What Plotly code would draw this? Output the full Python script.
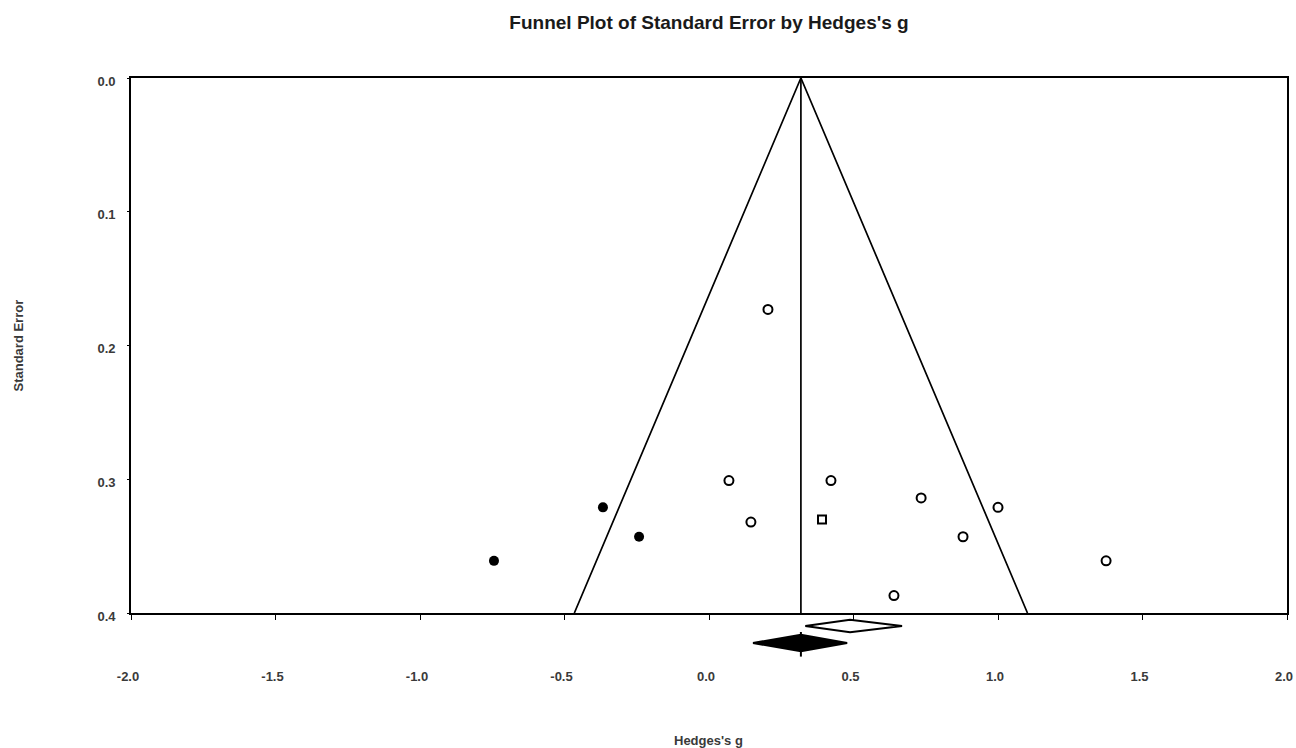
import plotly.graph_objects as go

# ---- data ----
observed_g = [0.204, 0.069, 0.422, 0.734, 1.000, 0.145, 0.879, 1.374, 0.640]
observed_se = [0.173, 0.301, 0.301, 0.314, 0.321, 0.332, 0.343, 0.361, 0.387]
square_g = [0.391]
square_se = [0.330]
imputed_g = [-0.367, -0.242, -0.744]
imputed_se = [0.321, 0.343, 0.361]

center_g = 0.318
se_max = 0.4
z = 1.96

# summary diamonds: (centre, low, high, row position, half height)
obs_diamond = dict(center=0.488, low=0.333, high=0.668, y=0.4097, h=0.0047)
imp_diamond = dict(center=0.318, low=0.152, high=0.478, y=0.4224, h=0.0062)

x_ticks = [-2.0, -1.5, -1.0, -0.5, 0.0, 0.5, 1.0, 1.5, 2.0]
y_ticks = [0.0, 0.1, 0.2, 0.3, 0.4]

font_family = "Liberation Sans, Arial, sans-serif"
text_color = "#3a3a3a"

fig = go.Figure()

# funnel
fig.add_trace(go.Scatter(
    x=[center_g - z * se_max, center_g, center_g + z * se_max],
    y=[se_max, 0, se_max],
    mode="lines", line=dict(color="black", width=1.7),
    hoverinfo="skip", showlegend=False))
# center line
fig.add_trace(go.Scatter(
    x=[center_g, center_g], y=[0, se_max],
    mode="lines", line=dict(color="black", width=1.7),
    hoverinfo="skip", showlegend=False))

# studies
fig.add_trace(go.Scatter(
    x=observed_g, y=observed_se, mode="markers",
    marker=dict(symbol="circle-open", size=9, color="black", line=dict(width=2)),
    showlegend=False, cliponaxis=False))
fig.add_trace(go.Scatter(
    x=square_g, y=square_se, mode="markers",
    marker=dict(symbol="square-open", size=8, color="black", line=dict(width=2)),
    showlegend=False, cliponaxis=False))
fig.add_trace(go.Scatter(
    x=imputed_g, y=imputed_se, mode="markers",
    marker=dict(symbol="circle", size=10, color="black"),
    showlegend=False, cliponaxis=False))

# diamonds in a strip below the plot box
def diamond(d, fill):
    xs = [d["low"], d["center"], d["high"], d["center"], d["low"]]
    ys = [d["y"], d["y"] - d["h"], d["y"], d["y"] + d["h"], d["y"]]
    return go.Scatter(x=xs, y=ys, mode="lines", fill="toself",
                      fillcolor=fill, line=dict(color="black", width=2),
                      xaxis="x", yaxis="y2", hoverinfo="skip", showlegend=False)

fig.add_trace(diamond(obs_diamond, "white"))
fig.add_trace(diamond(imp_diamond, "black"))
fig.add_trace(go.Scatter(
    x=[imp_diamond["center"], imp_diamond["center"]],
    y=[imp_diamond["y"] - imp_diamond["h"] - 0.002, imp_diamond["y"] + imp_diamond["h"] + 0.004],
    mode="lines", line=dict(color="black", width=2),
    xaxis="x", yaxis="y2", hoverinfo="skip", showlegend=False))

W, H = 1296, 748
box_left, box_right = 131, 1287
plot_top = 78
plot_bottom = 660
box_bottom = 613
main_bottom = (plot_bottom - box_bottom) / (plot_bottom - plot_top)
plot_w = box_right - box_left
plot_h = plot_bottom - plot_top

fig.update_layout(
    width=W, height=H,
    paper_bgcolor="white", plot_bgcolor="white",
    margin=dict(l=box_left, r=W - box_right, t=plot_top, b=H - plot_bottom,
                autoexpand=False),
    font=dict(family=font_family, color=text_color),
    title=dict(text="<b>Funnel Plot of Standard Error by Hedges's g</b>",
               x=0.5, xanchor="center",
               xref="paper", yref="container",
               y=1 - 22 / H, yanchor="middle",
               font=dict(size=19, color="#1a1a1a")),
    xaxis=dict(range=[-2, 2], tickvals=x_ticks,
               ticktext=[f"{v:.1f}" for v in x_ticks],
               showgrid=False, zeroline=False, automargin=False,
               showline=True, linecolor="black", linewidth=1.6, mirror=True,
               ticks="outside", ticklen=5, tickcolor="black", tickwidth=1.3,
               ticklabelstandoff=46, ticklabelshift=-3,
               tickfont=dict(size=13, color=text_color, weight="bold"),
               anchor="y"),
    yaxis=dict(range=[se_max, 0], domain=[main_bottom, 1],
               tickvals=y_ticks, ticktext=[f"{v:.1f}" for v in y_ticks],
               showgrid=False, zeroline=False, automargin=False,
               showline=True, linecolor="black", linewidth=1.6, mirror=True,
               ticks="outside", ticklen=2, tickcolor="black",
               ticklabelstandoff=9, ticklabelshift=-3,
               tickfont=dict(size=13, color=text_color, weight="bold")),
    yaxis2=dict(range=[se_max + (plot_bottom - box_bottom) / 1337.5, se_max],
                domain=[0, main_bottom], visible=False, anchor="x"),
    annotations=[
        dict(text="<b>Hedges's g</b>", xref="paper", yref="paper",
             x=(708 - 131) / plot_w, y=-(740 - 660) / plot_h,
             xanchor="center", yanchor="middle", showarrow=False,
             font=dict(size=13, color=text_color)),
        dict(text="<b>Standard Error</b>", xref="paper", yref="paper",
             x=-(131 - 18) / plot_w,
             y=(main_bottom + 1) / 2, textangle=-90,
             xanchor="center", yanchor="middle", showarrow=False,
             font=dict(size=13, color=text_color)),
    ],
)

fig.write_html(
    "out.html",
    config={"displayModeBar": False},
    post_script="document.body.style.margin='0';document.body.style.overflow='hidden';",
)
